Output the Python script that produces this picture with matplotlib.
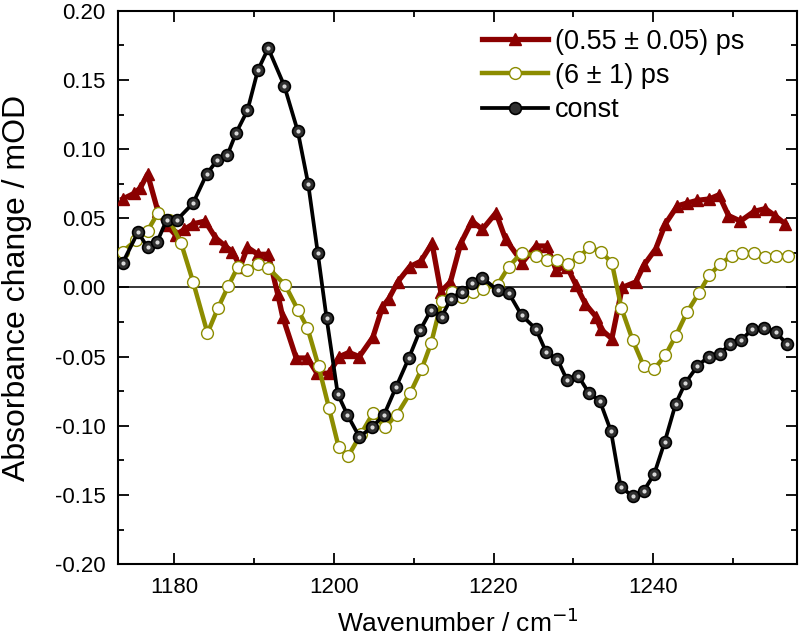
import matplotlib
matplotlib.use("Agg")
import matplotlib.pyplot as plt
from matplotlib.ticker import MultipleLocator, FormatStrFormatter

plt.rcParams['font.family'] = ['Liberation Sans', 'DejaVu Sans']

# (0.55 ± 0.05) ps component
wn_fast = [1173.6, 1175.0, 1175.8, 1176.7, 1178.0, 1179.1, 1180.2, 1181.3, 1182.4, 1183.9,
           1185.2, 1186.4, 1187.3, 1188.3, 1189.2, 1190.5, 1191.8, 1193.0, 1193.6, 1195.3,
           1196.7, 1197.9, 1199.4, 1200.7, 1201.9, 1203.2, 1204.9, 1206.1, 1206.9, 1208.0,
           1209.5, 1210.9, 1212.3, 1213.4, 1214.6, 1215.9, 1217.3, 1218.6, 1220.3, 1221.5,
           1223.6, 1225.3, 1226.7, 1227.8, 1229.2, 1230.3, 1231.5, 1232.8, 1233.4, 1234.8,
           1236.1, 1237.8, 1238.8, 1240.3, 1241.5, 1243.0, 1244.2, 1245.5, 1247.0, 1248.2,
           1249.4, 1250.9, 1252.6, 1254.0, 1255.2, 1256.5]
abs_fast = [0.064, 0.068, 0.072, 0.082, 0.055, 0.045, 0.038, 0.042, 0.046, 0.048,
            0.036, 0.030, 0.026, 0.015, 0.029, 0.024, 0.024, -0.005, -0.021, -0.051,
            -0.051, -0.062, -0.062, -0.050, -0.047, -0.050, -0.036, -0.014, -0.008, 0.004,
            0.015, 0.019, 0.032, -0.003, 0.004, 0.032, 0.048, 0.042, 0.054, 0.035,
            0.018, 0.030, 0.030, 0.013, 0.015, 0.002, -0.012, -0.021, -0.030, -0.037,
            0.000, 0.004, 0.016, 0.028, 0.046, 0.059, 0.061, 0.063, 0.064, 0.067,
            0.052, 0.048, 0.055, 0.057, 0.052, 0.046]

# (6 ± 1) ps component
wn_slow = [1173.6, 1175.2, 1176.7, 1178.0, 1179.4, 1180.9, 1182.4, 1184.2, 1185.5, 1186.8,
           1188.0, 1189.2, 1190.5, 1191.8, 1193.9, 1195.5, 1196.7, 1198.1, 1199.4, 1200.6,
           1201.8, 1203.4, 1204.9, 1206.4, 1207.9, 1209.6, 1211.0, 1212.2, 1213.5, 1214.8,
           1216.1, 1217.4, 1218.7, 1220.5, 1221.9, 1223.5, 1225.3, 1226.7, 1228.0, 1229.3,
           1230.7, 1232.0, 1233.4, 1234.8, 1236.0, 1237.4, 1238.8, 1240.1, 1241.5, 1242.8,
           1244.2, 1245.7, 1247.0, 1248.4, 1249.8, 1251.1, 1252.6, 1254.0, 1255.3, 1256.8]
abs_slow = [0.026, 0.034, 0.041, 0.054, 0.049, 0.032, 0.004, -0.033, -0.015, 0.001,
            0.015, 0.013, 0.017, 0.014, 0.002, -0.016, -0.029, -0.057, -0.087, -0.115,
            -0.122, -0.106, -0.091, -0.101, -0.092, -0.076, -0.059, -0.040, -0.010, -0.003,
            -0.007, -0.003, -0.001, 0.002, 0.015, 0.025, 0.023, 0.020, 0.020, 0.017,
            0.022, 0.029, 0.026, 0.018, -0.015, -0.038, -0.057, -0.059, -0.049, -0.035,
            -0.018, -0.004, 0.009, 0.017, 0.023, 0.025, 0.025, 0.022, 0.023, 0.023]

# const component
wn_const = [1173.6, 1175.5, 1176.7, 1177.9, 1179.1, 1180.4, 1182.4, 1184.1, 1185.4, 1186.7,
            1187.8, 1189.2, 1190.5, 1191.8, 1193.8, 1195.5, 1196.8, 1198.0, 1199.1, 1200.5,
            1201.7, 1203.2, 1204.8, 1206.3, 1207.8, 1209.4, 1210.8, 1212.2, 1213.5, 1214.7,
            1216.0, 1217.3, 1218.6, 1220.5, 1221.9, 1223.5, 1225.3, 1226.6, 1228.0, 1229.2,
            1230.6, 1231.9, 1233.3, 1234.7, 1235.9, 1237.4, 1238.8, 1240.1, 1241.4, 1242.8,
            1244.0, 1245.5, 1246.9, 1248.3, 1249.6, 1251.0, 1252.4, 1253.9, 1255.3, 1256.7]
abs_const = [0.018, 0.040, 0.029, 0.033, 0.049, 0.049, 0.061, 0.082, 0.092, 0.096,
             0.112, 0.128, 0.157, 0.173, 0.146, 0.113, 0.075, 0.025, -0.022, -0.077,
             -0.092, -0.108, -0.101, -0.092, -0.072, -0.051, -0.031, -0.016, -0.021, -0.008,
             -0.003, 0.003, 0.007, -0.002, -0.004, -0.020, -0.030, -0.047, -0.052, -0.067,
             -0.064, -0.076, -0.082, -0.104, -0.144, -0.151, -0.147, -0.135, -0.112, -0.084,
             -0.069, -0.057, -0.050, -0.048, -0.041, -0.038, -0.030, -0.029, -0.032, -0.041]

labels = ['(0.55 ± 0.05) ps', '(6 ± 1) ps', 'const']
red = '#8b0000'
olive = '#8c8c00'

fig = plt.figure(figsize=(8.0, 6.41), dpi=100)
ax = fig.add_axes([0.1475, 0.120, 0.849, 0.863])

ax.axhline(0, color='black', lw=1.1, zorder=1)

ax.plot(wn_fast, abs_fast, color=red, lw=3.8, marker='^', ms=9, mfc=red, mec=red,
        label=labels[0], zorder=3)
ax.plot(wn_slow, abs_slow, color=olive, lw=3.2, marker='o', ms=8.5, mfc='white', mec=olive,
        mew=1.0, label=labels[1], zorder=4)
ax.plot(wn_const, abs_const, color='black', lw=2.7, marker='o', ms=8.5, mfc='#303030', mec='black',
        mew=1.2, label=labels[2], zorder=5)
ax.plot(wn_const, abs_const, ls='none', marker='o', ms=3.0, mfc='#d8d8d8', mec='none', zorder=6)

ax.set_xlim(1173, 1258)
ax.set_ylim(-0.20, 0.20)
ax.xaxis.set_major_locator(MultipleLocator(20))
ax.xaxis.set_minor_locator(MultipleLocator(10))
ax.yaxis.set_major_locator(MultipleLocator(0.05))
ax.yaxis.set_minor_locator(MultipleLocator(0.025))
ax.yaxis.set_major_formatter(FormatStrFormatter('%.2f'))

ax.tick_params(which='both', direction='in', top=True, right=True, width=1.3, labelsize=16)
ax.tick_params(which='major', length=8)
ax.tick_params(which='minor', length=4.5)
ax.tick_params(axis='x', pad=9)
ax.tick_params(axis='y', pad=9)
for s in ax.spines.values():
    s.set_linewidth(1.5)

ax.set_xlabel('Wavenumber / cm$^{-1}$', fontsize=19, labelpad=8)
ax.set_ylabel('Absorbance change / mOD', fontsize=23)
ax.yaxis.set_label_coords(-0.127, 0.5)

handles, labs = ax.get_legend_handles_labels()
fig.legend(handles, labs, loc='upper left', bbox_to_anchor=(0.602, 0.955), frameon=False,
           fontsize=19.5, handlelength=2.45, handletextpad=0.25, labelspacing=0.3,
           borderpad=0, borderaxespad=0)

fig.savefig('out.png', dpi=100)
